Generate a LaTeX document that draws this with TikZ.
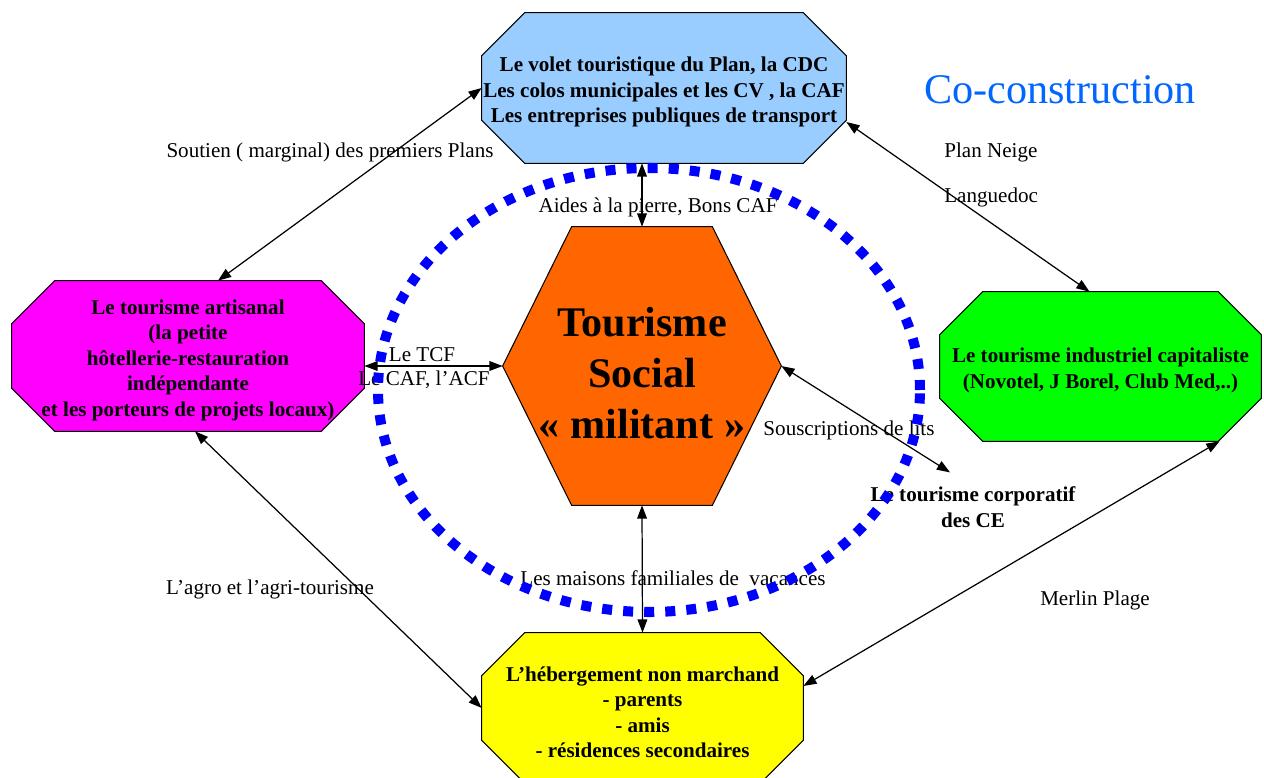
\documentclass[tikz,border=0pt]{standalone}
\usepackage{fontspec}
\setmainfont{Liberation Serif}
\usepackage{xcolor}
\usetikzlibrary{arrows.meta, calc, backgrounds}

\definecolor{plancol}{HTML}{99CCFF}
\definecolor{artcol}{HTML}{FF00FF}
\definecolor{indcol}{HTML}{00FF00}
\definecolor{nmcol}{HTML}{FFFF00}
\definecolor{socialcol}{HTML}{FF6600}
\definecolor{titlecol}{HTML}{0066FF}

% octagon drawn round a node: name, fill, corner cut
\newcommand{\octobox}[3]{%
  \filldraw[fill=#2, draw=black, line width=0.6pt]
    ($(#1.north west)+(#3,0)$) -- ($(#1.north east)+(-#3,0)$)
    -- ($(#1.north east)+(0,-#3)$) -- ($(#1.south east)+(0,#3)$)
    -- ($(#1.south east)+(-#3,0)$) -- ($(#1.south west)+(#3,0)$)
    -- ($(#1.south west)+(0,#3)$) -- ($(#1.north west)+(0,-#3)$) -- cycle;}
% pushes the first line of a box a little down
\newcommand{\lift}[1]{\rule{0pt}{#1}}

\begin{document}
\begin{tikzpicture}[
	lbl/.style={font=\fontsize{12}{14.2}\selectfont, inner sep=0pt},
	box/.style={font=\fontsize{12}{14.5}\selectfont\bfseries, align=center, inner sep=0pt},
	link/.style={{Triangle[length=7.5pt,width=5.5pt]}-{Triangle[length=7.5pt,width=5.5pt]}, line width=0.7pt},
	ring/.style={draw=blue, line width=5.7pt, dash pattern=on 5.7pt off 6.3pt}
]
	\useasboundingbox (0,0) rectangle (25.28,-15.56);

	% the five actors
	\node[box, minimum width=7.28cm, minimum height=3cm] (plan) at (13.28,-1.76)
		{\lift{13pt}Le volet touristique du Plan, la CDC\\Les colos municipales et les CV , la CAF\\Les entreprises publiques de transport};
	\node[box, minimum width=7.04cm, minimum height=3cm] (artisanal) at (3.76,-7.12)
		{\lift{13pt}Le tourisme artisanal\\(la petite\\hôtellerie-restauration\\indépendante\\et les porteurs de projets locaux)};
	\node[box, minimum width=6.42cm, minimum height=2.98cm] (industriel) at (22.01,-7.33)
		{\lift{13pt}Le tourisme industriel capitaliste\\(Novotel, J Borel, Club Med,..)};
	\node[box, minimum width=6.42cm, minimum height=3cm] (marchand) at (12.85,-14.16)
		{\lift{13pt}L'hébergement non marchand\\- parents\\- amis\\- résidences secondaires};
	\node[box, minimum width=5.56cm, minimum height=5.56cm, font=\fontsize{24}{29}\selectfont\bfseries] (social) at (12.84,-7.32)
		{\lift{25pt}Tourisme\\Social\\« militant »};
	\node[box] (corpo) at (19.46,-10.14) {Le tourisme corporatif\\des CE};

	\node[lbl, text=titlecol, font=\fontsize{24}{29}\selectfont] (title) at (21.2,-1.8) {Co-construction};

	\begin{scope}[on background layer]
		\octobox{plan}{plancol}{0.86}
		\octobox{artisanal}{artcol}{0.86}
		\octobox{industriel}{indcol}{0.86}
		\octobox{marchand}{nmcol}{0.86}
		\filldraw[fill=socialcol, draw=black, line width=0.6pt]
			(social.west) -- ($(social.north west)+(1.38,0)$) -- ($(social.north east)+(-1.38,0)$)
			-- (social.east) -- ($(social.south east)+(-1.38,0)$) -- ($(social.south west)+(1.38,0)$) -- cycle;
	\end{scope}

	% labels on the links
	\node[lbl] (soutien) at (6.6,-3.04) {Soutien ( marginal) des premiers Plans};
	\node[lbl, anchor=west] (neige) at (18.88,-3.04) {Plan Neige};
	\node[lbl, anchor=west] (languedoc) at (18.88,-3.94) {Languedoc};
	\node[lbl] (aides) at (13.16,-4.14) {Aides à la pierre, Bons CAF};
	\node[lbl] (tcf) at (8.44,-7.10) {Le TCF};
	\node[lbl] (caf) at (8.48,-7.60) {Le CAF, l'ACF};
	\node[lbl] (souscr) at (16.98,-8.60) {Souscriptions de lits};
	\node[lbl] (maisons) at (13.46,-11.56) {Les maisons familiales de~ vacances};
	\node[lbl] (agro) at (5.40,-11.78) {L'agro et l'agri-tourisme};
	\node[lbl] (merlin) at (21.90,-12.0) {Merlin Plage};

	% links
	\draw[link] (plan.west) -- ([xshift=0.6cm]artisanal.north);
	\draw[link] ([yshift=-0.68cm]plan.east) -- ([xshift=-0.22cm]industriel.north);
	\draw[link] (social.north) -- (social.north |- plan.south);
	\draw[link] (artisanal.east |- social.west) -- (social.west);
	\draw[link] (social.east) -- ([shift={(-0.46,0.28)}]corpo.north);
	\draw[link] (social.south) -- (marchand.north);
	\draw[link] ([xshift=0.14cm]artisanal.south) -- (marchand.west);
	\draw[link] ([xshift=2.38cm]industriel.south) -- ([yshift=0.44cm]marchand.east);

	% dotted ring round the social tourism
	\draw[ring] (12.98,-7.80) ellipse (5.42 and 4.44);
\end{tikzpicture}
\end{document}
